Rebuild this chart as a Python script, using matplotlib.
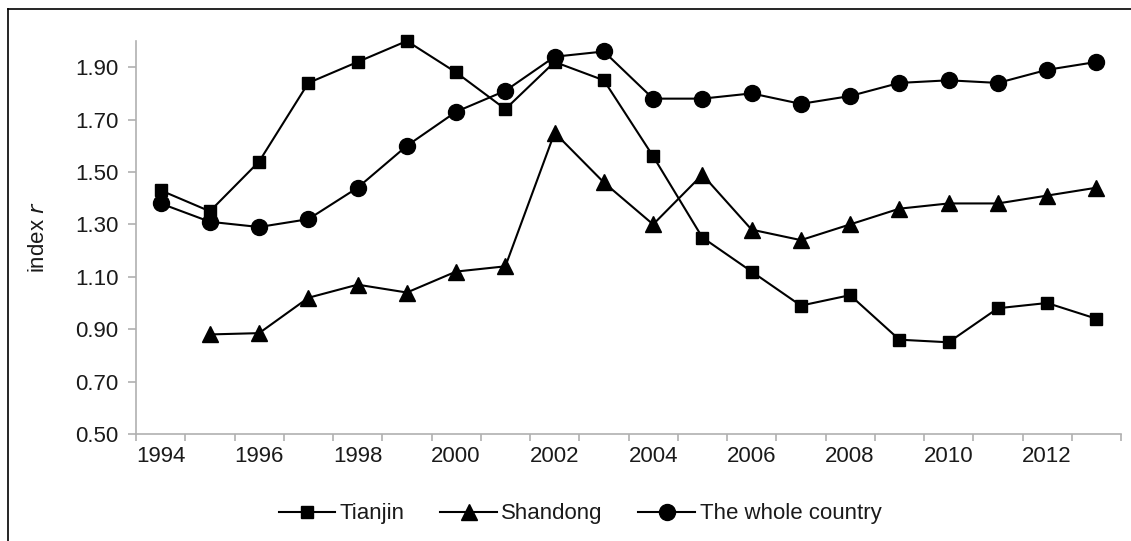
import matplotlib
matplotlib.use("Agg")
import matplotlib.pyplot as plt
from matplotlib.lines import Line2D
import numpy as np

plt.rcParams['font.family'] = ['Liberation Sans', 'DejaVu Sans']

years = list(range(1994, 2014))
tianjin = [1.43, 1.35, 1.54, 1.84, 1.92, 2.00, 1.88, 1.74, 1.92, 1.85,
           1.56, 1.25, 1.12, 0.99, 1.03, 0.86, 0.85, 0.98, 1.00, 0.94]
shandong = [np.nan, 0.88, 0.885, 1.02, 1.07, 1.04, 1.12, 1.14, 1.65, 1.46,
            1.30, 1.49, 1.28, 1.24, 1.30, 1.36, 1.38, 1.38, 1.41, 1.44]
country = [1.38, 1.31, 1.29, 1.32, 1.44, 1.60, 1.73, 1.81, 1.94, 1.96,
           1.78, 1.78, 1.80, 1.76, 1.79, 1.84, 1.85, 1.84, 1.89, 1.92]
yticks = [0.50, 0.70, 0.90, 1.10, 1.30, 1.50, 1.70, 1.90]

W, H = 1131, 541
FS = 16
fig = plt.figure(figsize=(W / 100, H / 100), dpi=100)
ax = fig.add_axes([136 / W, 1 - 434 / H, (1121 - 136) / W, (434 - 41) / H])

x = np.arange(len(years))
ax.plot(x, tianjin, color='black', lw=1.5, marker='s', ms=9, label='Tianjin', clip_on=False)
ax.plot(x, shandong, color='black', lw=1.5, marker='^', ms=11.5, label='Shandong', clip_on=False)
ax.plot(x, country, color='black', lw=1.5, marker='o', ms=11.5, label='The whole country', clip_on=False)

ax.set_xlim(-0.5, len(years) - 0.5)
ax.set_ylim(0.5, 2.0)

gray = '#b0b0b0'
for s in ['top', 'right']:
    ax.spines[s].set_visible(False)
for s in ['left', 'bottom']:
    ax.spines[s].set_color(gray)
    ax.spines[s].set_linewidth(1.2)

ax.set_yticks(yticks)
ax.set_yticklabels([f"{v:.2f}" for v in yticks])
ax.tick_params(axis='y', direction='out', length=6, color=gray, width=1.2,
               labelsize=FS, pad=6.5, labelcolor='#1a1a1a')

ax.set_xticks(np.arange(-0.5, len(years)))
ax.set_xticklabels([])
ax.set_xticks(x, minor=True)
ax.set_xticklabels([str(y) if i % 2 == 0 else '' for i, y in enumerate(years)], minor=True)
ax.tick_params(axis='x', which='major', direction='out', length=5, color=gray, width=1.2)
ax.tick_params(axis='x', which='minor', length=0, labelsize=FS, pad=9, labelcolor='#1a1a1a')

ax.set_ylabel('index $\\it{r}$', fontsize=FS, labelpad=19, color='#1a1a1a')

handles = [
    Line2D([], [], color='black', lw=1.5, marker='s', ms=9),
    Line2D([], [], color='black', lw=1.5, marker='^', ms=11.5),
    Line2D([], [], color='black', lw=1.5, marker='o', ms=11.5),
]
fig.legend(handles, ['Tianjin', 'Shandong', 'The whole country'],
           loc='center', bbox_to_anchor=(580 / W, 1 - 514 / H), ncol=3,
           frameon=False, fontsize=FS, handlelength=2.55, handletextpad=0.2,
           columnspacing=1.6, labelcolor='#1a1a1a')

fig.add_artist(Line2D([8 / W, 8 / W], [0, 1 - 9 / H], transform=fig.transFigure,
                      color='black', lw=1.2))
fig.add_artist(Line2D([8 / W, 1], [1 - 9 / H, 1 - 9 / H], transform=fig.transFigure,
                      color='black', lw=1.2))

fig.savefig('out.png', dpi=100)
